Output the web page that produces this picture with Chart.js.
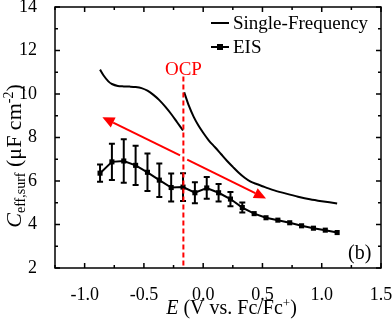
<!DOCTYPE html>
<html>
<head>
<meta charset="utf-8">
<script src="https://cdn.jsdelivr.net/npm/chart.js@4/dist/chart.umd.min.js"></script>
<style>
  html, body { margin: 0; padding: 0; background: #fff; }
  #wrap { width: 392px; height: 319px; }
</style>
</head>
<body>
<div id="wrap"><canvas id="myChart" width="392" height="319"></canvas></div>
<script>
// EIS points, error bars
const eisE = [-0.87, -0.77, -0.67, -0.57, -0.47, -0.37, -0.27, -0.17, -0.07, 0.03, 0.13,
              0.23, 0.33, 0.43, 0.53, 0.63, 0.73, 0.83, 0.93, 1.03, 1.13];
const eisC = [6.36, 6.88, 6.92, 6.72, 6.40, 6.04, 5.70, 5.72, 5.46, 5.68, 5.46,
              5.17, 4.78, 4.50, 4.31, 4.20, 4.08, 3.94, 3.83, 3.74, 3.63];
const eisErr = [0.40, 0.83, 1.00, 0.90, 0.86, 0.77, 0.64, 0.64, 0.48, 0.50, 0.40,
                0.33, 0.23, 0.06, 0.05, 0.04, 0.04, 0.04, 0.04, 0.04, 0.04];

// single-frequency curve, split at the OCP
const sfLeftE = [-0.87, -0.84, -0.80, -0.77, -0.72, -0.67, -0.62, -0.57, -0.52, -0.47, -0.42,
                 -0.37, -0.32, -0.27, -0.22, -0.17];
const sfLeftC = [11.12, 10.85, 10.58, 10.46, 10.37, 10.35, 10.34, 10.32, 10.27, 10.15, 9.96,
                 9.72, 9.42, 9.08, 8.70, 8.32];
const sfRightE = [-0.16, -0.12, -0.08, -0.04, 0.00, 0.05, 0.10, 0.15, 0.20, 0.25, 0.30, 0.35,
                  0.40, 0.45, 0.50, 0.55, 0.60, 0.70, 0.80, 0.90, 1.00, 1.13];
const sfRightC = [10.08, 9.45, 8.95, 8.55, 8.22, 7.85, 7.55, 7.24, 6.93, 6.65, 6.38, 6.15,
                  5.97, 5.86, 5.76, 5.66, 5.57, 5.42, 5.28, 5.16, 5.07, 4.97];

// annotations
const ocpE = -0.167;
const ocpRange = [2, 10.8];
const arrowFrom = [[-0.195, 7.18], [-0.135, 6.98]];
const arrowTo = [[-0.85, 8.93], [0.53, 5.20]];

const xTickVals = [-1.0, -0.5, 0.0, 0.5, 1.0, 1.5];
const xMinorVals = [-1.25, -0.75, -0.25, 0.25, 0.75, 1.25];
const yTickVals = [2, 4, 6, 8, 10, 12, 14];
const yMinorVals = [3, 5, 7, 9, 11, 13];

const serif = '"Liberation Serif", "DejaVu Serif", serif';
const RED = '#ff0000';

let toXY = (xs, ys) => xs.map((x, i) => ({ x: x, y: ys[i] }));

let framePlugin = {
  id: 'frame',
  beforeDatasetsDraw(chart) {
    const { ctx, scales: { x, y } } = chart;
    ctx.save();
    // error bars
    ctx.strokeStyle = '#000';
    ctx.lineWidth = 2;
    eisE.forEach((e, i) => {
      if (eisErr[i] < 0.1) return;
      const px = x.getPixelForValue(e);
      const top = y.getPixelForValue(eisC[i] + eisErr[i]);
      const bot = y.getPixelForValue(eisC[i] - eisErr[i]);
      ctx.beginPath();
      ctx.moveTo(px, top); ctx.lineTo(px, bot);
      ctx.moveTo(px - 3, top); ctx.lineTo(px + 3, top);
      ctx.moveTo(px - 3, bot); ctx.lineTo(px + 3, bot);
      ctx.stroke();
    });
    ctx.restore();
  },
  afterDraw(chart) {
    const { ctx, chartArea: a, scales: { x, y } } = chart;
    ctx.save();
    // box and inward ticks
    ctx.strokeStyle = '#000';
    ctx.lineWidth = 1.5;
    ctx.strokeRect(a.left, a.top, a.right - a.left, a.bottom - a.top);
    let tick = (vals, len) => {
      vals.forEach(v => {
        const px = x.getPixelForValue(v);
        ctx.beginPath();
        ctx.moveTo(px, a.bottom); ctx.lineTo(px, a.bottom - len);
        ctx.moveTo(px, a.top); ctx.lineTo(px, a.top + len);
        ctx.stroke();
      });
    };
    let ytick = (vals, len) => {
      vals.forEach(v => {
        const py = y.getPixelForValue(v);
        ctx.beginPath();
        ctx.moveTo(a.left, py); ctx.lineTo(a.left + len, py);
        ctx.moveTo(a.right, py); ctx.lineTo(a.right - len, py);
        ctx.stroke();
      });
    };
    tick(xTickVals, 5); tick(xMinorVals, 3);
    ytick(yTickVals, 5); ytick(yMinorVals, 3);

    // OCP dashed line
    const ox = x.getPixelForValue(ocpE);
    ctx.strokeStyle = RED;
    ctx.lineWidth = 2;
    ctx.setLineDash([5, 3]);
    ctx.beginPath();
    ctx.moveTo(ox, y.getPixelForValue(ocpRange[1]));
    ctx.lineTo(ox, y.getPixelForValue(ocpRange[0]));
    ctx.stroke();
    ctx.setLineDash([]);
    ctx.fillStyle = RED;
    ctx.font = '19px ' + serif;
    ctx.textAlign = 'center';
    ctx.textBaseline = 'alphabetic';
    ctx.fillText('OCP', ox, 75);

    // arrows
    arrowFrom.forEach((f, i) => {
      const x0 = x.getPixelForValue(f[0]), y0 = y.getPixelForValue(f[1]);
      const x1 = x.getPixelForValue(arrowTo[i][0]), y1 = y.getPixelForValue(arrowTo[i][1]);
      const ang = Math.atan2(y1 - y0, x1 - x0);
      const hl = 12, hw = 5.5;
      const bx = x1 - hl * Math.cos(ang), by = y1 - hl * Math.sin(ang);
      ctx.strokeStyle = RED;
      ctx.lineWidth = 2;
      ctx.beginPath();
      ctx.moveTo(x0, y0); ctx.lineTo(bx, by);
      ctx.stroke();
      ctx.beginPath();
      ctx.moveTo(x1, y1);
      ctx.lineTo(bx + hw * Math.sin(ang), by - hw * Math.cos(ang));
      ctx.lineTo(bx - hw * Math.sin(ang), by + hw * Math.cos(ang));
      ctx.closePath();
      ctx.fill();
    });

    // legend
    ctx.fillStyle = '#000';
    ctx.strokeStyle = '#000';
    ctx.lineWidth = 2;
    ctx.textAlign = 'left';
    ctx.font = '19px ' + serif;
    ctx.beginPath(); ctx.moveTo(211, 23); ctx.lineTo(229, 23); ctx.stroke();
    ctx.fillText('Single-Frequency', 233, 29);
    ctx.beginPath(); ctx.moveTo(211, 47); ctx.lineTo(229, 47); ctx.stroke();
    ctx.fillRect(217, 44, 6, 6);
    ctx.fillText('EIS', 233, 53);

    // (b)
    ctx.font = '20px ' + serif;
    ctx.fillText('(b)', 348, 259);

    // x title
    const parts = [['E', 'italic 20px ', 0], [' (V vs. Fc/Fc', '20px ', 0], ['+', '13px ', -7], [')', '20px ', 0]];
    let w = 0;
    parts.forEach(p => { ctx.font = p[1] + serif; w += ctx.measureText(p[0]).width; });
    let cx = 231.5 - w / 2;
    parts.forEach(p => {
      ctx.font = p[1] + serif;
      ctx.fillText(p[0], cx, 314 + p[2]);
      cx += ctx.measureText(p[0]).width;
    });

    // y title
    ctx.translate(21, 156);
    ctx.rotate(-Math.PI / 2);
    const yparts = [['C', 'italic 22px ', 0], ['eff,surf', '14px ', 4], [' (\u03bcF cm', '22px ', 0],
                    ['-2', '14px ', -8], [')', '22px ', 0]];
    w = 0;
    yparts.forEach(p => { ctx.font = p[1] + serif; w += ctx.measureText(p[0]).width; });
    cx = -w / 2;
    yparts.forEach(p => {
      ctx.font = p[1] + serif;
      ctx.fillText(p[0], cx, p[2]);
      cx += ctx.measureText(p[0]).width;
    });
    ctx.restore();
  }
};

new Chart(document.getElementById('myChart'), {
  type: 'line',
  data: {
    datasets: [{
      label: 'Single-Frequency',
      data: toXY(sfLeftE, sfLeftC),
      borderColor: '#000',
      borderWidth: 2,
      pointRadius: 0,
      tension: 0.3
    }, {
      label: 'Single-Frequency',
      data: toXY(sfRightE, sfRightC),
      borderColor: '#000',
      borderWidth: 2,
      pointRadius: 0,
      tension: 0.3
    }, {
      label: 'EIS',
      data: toXY(eisE, eisC),
      borderColor: '#000',
      backgroundColor: '#000',
      borderWidth: 2,
      pointStyle: 'rect',
      pointRadius: 3.6,
      pointBorderWidth: 0
    }]
  },
  options: {
    responsive: false,
    animation: false,
    layout: { padding: { left: 0, right: 11, top: 7, bottom: 0 } },
    plugins: { legend: { display: false }, tooltip: { enabled: false } },
    scales: {
      x: {
        type: 'linear',
        min: -1.25, max: 1.5,
        afterBuildTicks: s => { s.ticks = xTickVals.map(v => ({ value: v })); },
        afterFit: s => { s.height = 51; s.paddingLeft = 0; s.paddingRight = 0; },
        grid: { display: false },
        border: { display: false },
        ticks: {
          color: '#000', padding: 8, maxRotation: 0,
          font: { family: serif, size: 18 },
          callback: v => v.toFixed(1)
        }
      },
      y: {
        min: 2, max: 14,
        afterBuildTicks: s => { s.ticks = yTickVals.map(v => ({ value: v })); },
        afterFit: s => { s.width = 55; s.paddingTop = 0; s.paddingBottom = 0; },
        grid: { display: false },
        border: { display: false },
        ticks: {
          color: '#000', padding: 10,
          font: { family: serif, size: 18 }
        }
      }
    }
  },
  plugins: [framePlugin]
});
</script>
</body>
</html>
